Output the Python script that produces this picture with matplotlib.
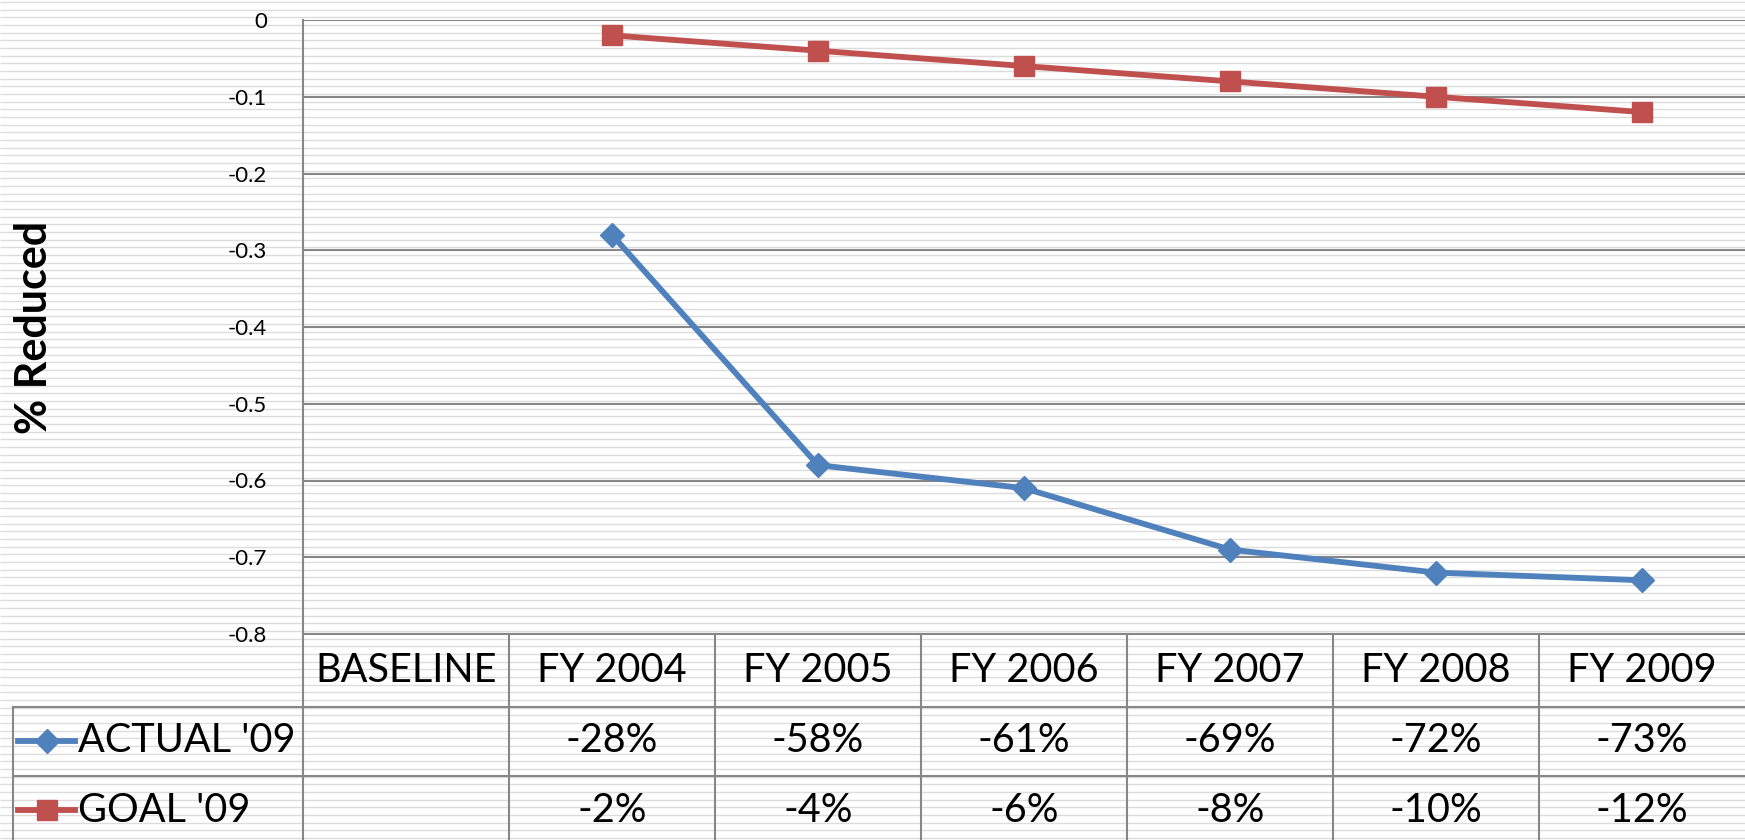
import numpy as np
import matplotlib
matplotlib.use("Agg")
import matplotlib.pyplot as plt
from matplotlib.lines import Line2D

plt.rcParams['font.family'] = ['Lato', 'DejaVu Sans']

categories = ["BASELINE", "FY 2004", "FY 2005", "FY 2006", "FY 2007", "FY 2008", "FY 2009"]
actual_09 = [np.nan, -0.28, -0.58, -0.61, -0.69, -0.72, -0.73]
goal_09 = [np.nan, -0.02, -0.04, -0.06, -0.08, -0.10, -0.12]
series_names = ["ACTUAL '09", "GOAL '09"]
yticks = [0, -0.1, -0.2, -0.3, -0.4, -0.5, -0.6, -0.7, -0.8]

BLUE = "#4F81BD"
RED = "#C0504D"
GRID = "#878787"
LW = 4.2

W, H = 1745, 840
fig = plt.figure(figsize=(W / 100, H / 100), dpi=100)

# striped background across the whole figure
bg = fig.add_axes([0, 0, 1, 1], zorder=-10)
bg.set_xlim(0, W)
bg.set_ylim(H, 0)
bg.hlines(np.arange(2, H, 7.67), 0, W, color="#dcdcdc", lw=1.0)
bg.axis('off')

# plot area in pixels
px_left, px_right, px_top, px_bottom = 303, 1745, 20, 634
ax = fig.add_axes([px_left / W, 1 - px_bottom / H,
                   (px_right - px_left) / W, (px_bottom - px_top) / H])
ax.patch.set_alpha(0)

x = np.arange(len(categories))
ax.plot(x, actual_09, color=BLUE, lw=LW, marker='D', ms=12, zorder=3)
ax.plot(x, goal_09, color=RED, lw=LW, marker='s', ms=14, zorder=3)

ax.set_xlim(-0.5, len(categories) - 0.5)
ax.set_ylim(-0.8, 0)
ax.set_yticks(yticks)
ax.set_yticklabels([f"{v:g}" for v in yticks])
ax.tick_params(axis='y', length=0, pad=26, labelsize=16)
ax.set_xticks([])
ax.grid(axis='y', color=GRID, lw=1.5)
for s in ['top', 'right', 'bottom']:
    ax.spines[s].set_visible(False)
ax.spines['left'].set_color(GRID)
ax.spines['left'].set_linewidth(1.5)

fig.text(34 / W, 1 - 327 / H, "% Reduced", rotation=90, ha='center', va='center',
         fontsize=31, fontweight='bold')

# data table under the plot
unit = (px_right - px_left) / len(categories)
ax_h = px_bottom - px_top


def ay(py):
    return (px_bottom - py) / ax_h


def dx(px):
    return -0.5 + (px - px_left) / unit


tr = ax.get_xaxis_transform()
row1, row2, bot = ay(707), ay(776), ay(845)
leg_left = dx(13)
kw = dict(transform=tr, clip_on=False, color=GRID, lw=1.5)
ax.add_line(Line2D([-0.5, 6.5], [0, 0], **kw))
ax.add_line(Line2D([leg_left, 6.5], [row1, row1], **kw))
ax.add_line(Line2D([leg_left, 6.5], [row2, row2], **kw))
ax.add_line(Line2D([leg_left, leg_left], [row1, bot], **kw))
for k in range(len(categories)):
    ax.add_line(Line2D([k - 0.5, k - 0.5], [0, bot], **kw))

FS = 28.5
hdr_y = ay(670)
for i, c in enumerate(categories):
    ax.text(i, hdr_y, c, transform=tr, ha='center', va='center', fontsize=FS)

rows = [(actual_09, BLUE, 'D', 12, ay(741)), (goal_09, RED, 's', 14, ay(810))]
for (vals, col, mk, ms, yy), name in zip(rows, series_names):
    ax.add_line(Line2D([dx(18), dx(75)], [yy, yy], transform=tr, clip_on=False,
                       color=col, lw=LW))
    ax.add_line(Line2D([dx(46.5)], [yy], transform=tr, clip_on=False,
                       color=col, marker=mk, ms=ms, lw=0))
    ax.text(dx(78), yy, name, transform=tr, ha='left', va='center', fontsize=FS)
    for i, v in enumerate(vals):
        if not np.isnan(v):
            ax.text(i, yy, f"{round(v * 100):d}%", transform=tr, ha='center',
                    va='center', fontsize=FS)

fig.savefig("out.png", dpi=100)
